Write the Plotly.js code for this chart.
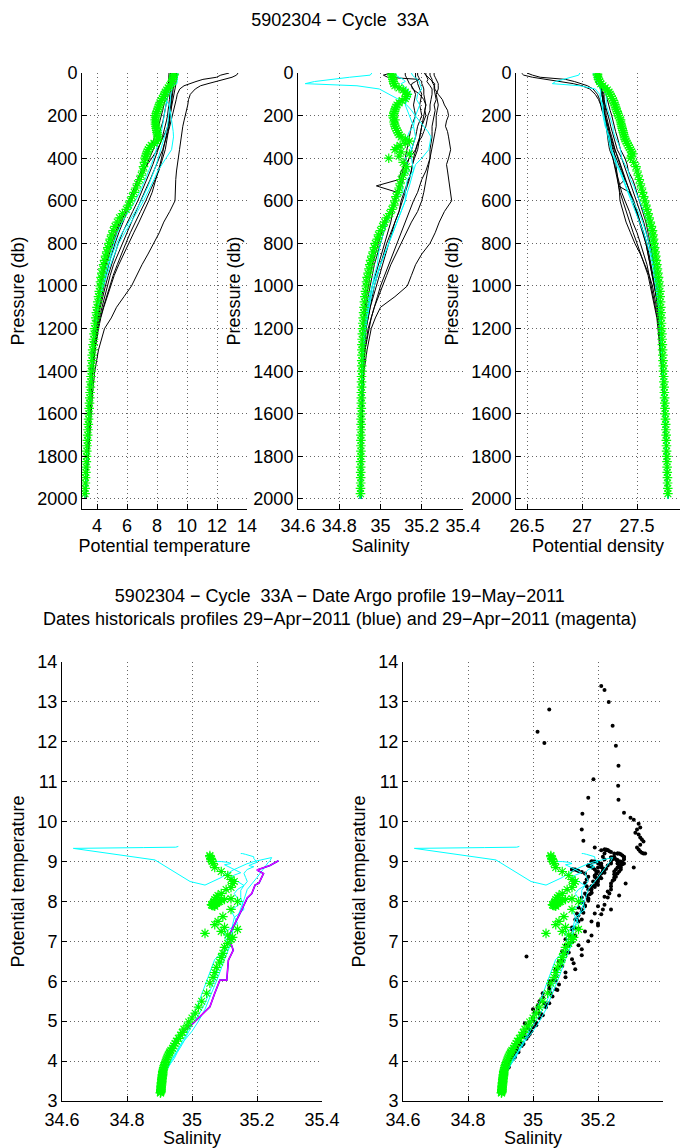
<!DOCTYPE html>
<html>
<head>
<meta charset="utf-8">
<script src="https://cdn.plot.ly/plotly-3.0.1.min.js"></script>
<style>body{margin:0;padding:0;background:#fff}#chart{width:680px;height:1148px}</style>
</head>
<body>
<div id="chart"></div>
<script>
// ---------- Argo profile (green stars) ----------
const argoP = [5,10,20,30,40,50,60,70,80,90,100,110,120,130,140,150,160,170,180,190,200,210,220,230,240,250,260,270,280,290,300,310,320,330,340,350,360,370,380,390,400,
  420,440,460,480,500,520,540,560,580,600,620,640,660,680,700,720,740,760,780,800,820,840,860,880,900,920,940,960,980,1000,
  1025,1050,1075,1100,1125,1150,1175,1200,1225,1250,1275,1300,1325,1350,1375,1400,1425,1450,1475,1500,1525,1550,1575,1600,1625,1650,1675,1700,1725,1750,1775,1800,1825,1850,1875,1900,1925,1950,1975,2000];
const argoT = [9.15,9.12,9.08,9.05,9.0,8.95,8.85,8.75,8.65,8.55,8.5,8.45,8.35,8.3,8.2,8.15,8.1,8.05,8.0,7.95,7.92,7.9,7.88,7.9,7.9,7.92,7.95,7.98,8.0,8.03,8.05,8.07,8.0,7.8,7.62,7.5,7.42,7.35,7.3,7.25,7.2,
  7.16,7.1,7.05,6.95,6.85,6.7,6.6,6.48,6.35,6.22,6.1,5.95,5.7,5.5,5.35,5.2,5.08,4.98,4.88,4.8,4.72,4.65,4.57,4.5,4.44,4.38,4.32,4.27,4.23,4.2,
  4.15,4.1,4.05,4.0,3.96,3.92,3.88,3.84,3.8,3.77,3.74,3.71,3.68,3.66,3.64,3.62,3.6,3.58,3.56,3.54,3.52,3.5,3.48,3.46,3.44,3.42,3.4,3.38,3.36,3.34,3.32,3.3,3.29,3.27,3.26,3.24,3.23,3.21,3.2];
const argoS = [35.055,35.055,35.058,35.06,35.062,35.065,35.07,35.09,35.11,35.12,35.13,35.125,35.12,35.105,35.09,35.08,35.075,35.07,35.068,35.065,35.06,35.062,35.07,35.065,35.068,35.07,35.075,35.08,35.085,35.09,35.1,35.12,35.14,35.12,35.095,35.08,35.07,35.1,35.14,35.09,35.04,
  35.11,35.125,35.12,35.11,35.1,35.095,35.09,35.085,35.075,35.07,35.065,35.055,35.045,35.03,35.02,35.01,35.0,34.99,34.985,34.975,34.97,34.965,34.958,34.952,34.948,34.944,34.94,34.935,34.932,34.93,
  34.927,34.924,34.922,34.92,34.918,34.916,34.914,34.913,34.912,34.911,34.91,34.91,34.91,34.909,34.909,34.909,34.908,34.908,34.908,34.907,34.907,34.907,34.907,34.906,34.906,34.906,34.906,34.905,34.905,34.905,34.905,34.905,34.904,34.904,34.904,34.904,34.904,34.903,34.903];
const argoD = [27.14,27.14,27.145,27.15,27.16,27.17,27.19,27.21,27.23,27.245,27.255,27.265,27.275,27.285,27.29,27.3,27.305,27.31,27.32,27.325,27.33,27.34,27.35,27.35,27.355,27.36,27.365,27.37,27.375,27.38,27.385,27.39,27.4,27.41,27.42,27.43,27.44,27.45,27.46,27.45,27.44,
  27.47,27.49,27.5,27.51,27.52,27.53,27.54,27.55,27.56,27.57,27.58,27.59,27.6,27.61,27.62,27.63,27.64,27.645,27.65,27.655,27.66,27.665,27.67,27.675,27.68,27.685,27.69,27.695,27.7,27.705,
  27.708,27.71,27.713,27.716,27.718,27.72,27.722,27.724,27.726,27.728,27.73,27.732,27.734,27.736,27.738,27.74,27.742,27.744,27.746,27.748,27.75,27.752,27.754,27.756,27.758,27.76,27.762,27.764,27.766,27.767,27.768,27.77,27.772,27.773,27.774,27.776,27.777,27.779,27.78];

// ---------- Historical profiles: common pressure levels ----------
const histP = [0,10,20,30,40,50,60,75,100,125,150,175,200,225,250,275,300,330,360,400,430,460,500,530,560,600,650,700,750,800,850,900,950,1000,1050,1100,1150,1200,1300,1400,1500,1600,1700,1800,1900,2000];

// black historical profiles (T = potential temperature, S = salinity, D = potential density)
const blkA_T = [13.4,13.3,13.0,12.4,11.9,11.4,10.9,10.55,10.22,10.1,10.05,9.95,9.85,9.8,9.72,9.68,9.6,9.55,9.5,9.42,9.35,9.3,9.25,9.22,9.2,9.2,8.85,8.45,8.15,7.8,7.4,7.0,6.65,6.3,5.8,5.3,4.95,4.5,4.1,3.85,3.7,3.6,3.5,3.4,3.32,3.25];
const blkA_S = [35.21,35.22,35.233,35.245,35.255,35.263,35.262,35.263,35.28,35.3,35.31,35.325,35.33,35.32,35.315,35.325,35.33,35.335,35.34,35.33,35.32,35.325,35.33,35.335,35.34,35.345,35.31,35.285,35.265,35.24,35.2,35.17,35.15,35.13,35.07,35.0,34.975,34.955,34.935,34.92,34.915,34.912,34.91,34.91,34.908,34.907];
const blkA_D = [26.45,26.47,26.55,26.68,26.8,26.92,27.0,27.07,27.12,27.15,27.17,27.19,27.21,27.22,27.24,27.25,27.26,27.27,27.29,27.3,27.31,27.32,27.33,27.335,27.34,27.345,27.37,27.4,27.44,27.48,27.53,27.57,27.61,27.64,27.66,27.68,27.695,27.71,27.725,27.735,27.745,27.752,27.76,27.768,27.775,27.78];

const blkB_T = [12.81,12.25,11.97,11.06,10.6,10.2,9.8,9.52,9.35,9.28,9.2,9.12,9.05,8.95,8.85,8.75,8.62,8.5,8.38,8.15,7.98,7.8,7.55,7.35,7.15,6.9,6.6,6.3,6.0,5.7,5.4,5.1,4.88,4.7,4.5,4.3,4.15,4.02,3.86,3.72,3.6,3.5,3.42,3.35,3.28,3.22];
const blkB_S = [35.05,35.014,35.035,35.186,35.17,35.152,35.15,35.155,35.19,35.21,35.22,35.215,35.22,35.21,35.2,35.195,35.19,35.185,35.18,35.165,35.155,35.15,35.135,35.125,35.115,35.1,35.09,35.07,35.05,35.03,35.015,35.0,34.985,34.97,34.96,34.95,34.94,34.93,34.92,34.915,34.912,34.91,34.908,34.907,34.906,34.905];
const blkB_D = [26.5,26.55,26.62,26.85,26.93,27.0,27.05,27.1,27.14,27.16,27.17,27.18,27.2,27.21,27.22,27.235,27.25,27.265,27.28,27.31,27.33,27.355,27.39,27.415,27.44,27.47,27.5,27.53,27.555,27.58,27.6,27.62,27.64,27.66,27.675,27.69,27.7,27.71,27.722,27.732,27.74,27.748,27.756,27.764,27.772,27.78];

const blkC_T = [9.3,9.3,9.3,9.29,9.28,9.26,9.24,9.2,9.12,9.06,9.0,8.95,8.9,8.82,8.72,8.58,8.42,8.22,8.02,7.65,7.35,7.05,6.75,6.62,6.5,6.3,6.02,5.72,5.45,5.2,4.98,4.78,4.6,4.45,4.3,4.16,4.02,3.92,3.78,3.66,3.57,3.49,3.42,3.35,3.29,3.23];
const blkC_S = [35.22,35.22,35.225,35.23,35.225,35.235,35.24,35.25,35.25,35.245,35.24,35.24,35.23,35.225,35.22,35.21,35.2,35.18,35.17,35.14,35.12,35.1,35.09,34.98,35.08,35.07,35.06,35.05,35.035,35.02,35.005,34.99,34.975,34.96,34.95,34.94,34.93,34.925,34.915,34.91,34.91,34.908,34.907,34.906,34.905,34.905];
const blkC_D = [27.12,27.12,27.125,27.13,27.13,27.14,27.15,27.17,27.18,27.19,27.2,27.205,27.21,27.22,27.23,27.245,27.26,27.28,27.3,27.33,27.35,27.37,27.39,27.33,27.43,27.46,27.49,27.52,27.55,27.58,27.6,27.62,27.64,27.66,27.675,27.69,27.7,27.71,27.72,27.73,27.74,27.748,27.756,27.764,27.772,27.78];

const blkD_T = [9.0,9.0,9.0,9.0,8.98,8.96,8.94,8.9,8.86,8.83,8.8,8.76,8.7,8.63,8.55,8.46,8.36,8.22,8.08,7.88,7.72,7.55,7.32,7.15,6.98,6.72,6.38,6.02,5.7,5.42,5.18,4.96,4.75,4.56,4.38,4.22,4.08,3.97,3.8,3.67,3.58,3.5,3.43,3.36,3.3,3.24];
const blkD_S = [35.18,35.18,35.185,35.19,35.2,35.2,35.205,35.21,35.21,35.215,35.22,35.215,35.21,35.205,35.2,35.195,35.19,35.18,35.17,35.16,35.155,35.15,35.14,35.13,35.12,35.11,35.09,35.07,35.055,35.04,35.025,35.01,34.995,34.98,34.965,34.95,34.94,34.93,34.92,34.912,34.91,34.908,34.907,34.906,34.905,34.905];
const blkD_D = [27.14,27.14,27.145,27.15,27.16,27.165,27.17,27.18,27.19,27.2,27.21,27.215,27.22,27.23,27.24,27.255,27.27,27.285,27.3,27.33,27.35,27.37,27.4,27.42,27.44,27.46,27.5,27.53,27.56,27.59,27.61,27.63,27.645,27.66,27.675,27.69,27.7,27.71,27.72,27.735,27.742,27.75,27.758,27.765,27.772,27.78];

const blkE_T = [9.2,9.2,9.2,9.18,9.15,9.12,9.1,9.06,9.0,8.98,8.95,8.93,8.9,8.85,8.8,8.75,8.7,8.62,8.55,8.38,8.25,8.12,7.88,7.7,7.5,7.25,6.9,6.55,6.22,5.92,5.62,5.35,5.08,4.85,4.62,4.42,4.22,4.06,3.84,3.69,3.59,3.5,3.43,3.36,3.3,3.24];
const blkE_S = [35.26,35.26,35.265,35.27,35.275,35.28,35.28,35.28,35.27,35.275,35.28,35.275,35.27,35.27,35.27,35.265,35.26,35.255,35.25,35.24,35.23,35.22,35.2,35.19,35.18,35.16,35.14,35.12,35.1,35.08,35.06,35.04,35.02,35.0,34.985,34.97,34.955,34.94,34.925,34.915,34.91,34.908,34.907,34.906,34.905,34.905];
const blkE_D = [27.14,27.14,27.145,27.15,27.16,27.17,27.175,27.18,27.18,27.19,27.2,27.2,27.21,27.215,27.22,27.225,27.23,27.24,27.25,27.28,27.295,27.31,27.33,27.345,27.36,27.39,27.43,27.46,27.5,27.53,27.56,27.59,27.61,27.63,27.65,27.67,27.685,27.7,27.715,27.73,27.74,27.75,27.758,27.765,27.772,27.78];

const blkF_T = [8.9,8.9,8.9,8.89,8.88,8.86,8.84,8.8,8.75,8.7,8.65,8.58,8.5,8.4,8.3,8.18,8.05,7.9,7.75,7.5,7.32,7.15,6.9,6.72,6.55,6.25,5.9,5.6,5.32,5.05,4.82,4.6,4.42,4.25,4.12,4.0,3.9,3.82,3.7,3.6,3.52,3.46,3.4,3.34,3.28,3.22];
const blkF_S = [35.17,35.17,35.17,35.175,35.18,35.18,35.185,35.19,35.2,35.195,35.19,35.195,35.2,35.19,35.18,35.175,35.17,35.16,35.15,35.14,35.13,35.12,35.11,35.1,35.09,35.07,35.05,35.03,35.015,35.0,34.985,34.97,34.96,34.95,34.94,34.93,34.925,34.92,34.912,34.91,34.908,34.906,34.905,34.905,34.904,34.903];
const blkF_D = [27.15,27.15,27.15,27.155,27.16,27.165,27.17,27.18,27.2,27.2,27.21,27.225,27.24,27.25,27.26,27.275,27.29,27.305,27.32,27.36,27.38,27.4,27.43,27.45,27.47,27.5,27.53,27.56,27.585,27.61,27.63,27.65,27.665,27.68,27.69,27.7,27.707,27.715,27.725,27.735,27.742,27.75,27.758,27.765,27.772,27.78];

const blkG_T = [9.1,9.1,9.1,9.1,9.08,9.06,9.04,9.02,9.0,8.98,8.95,8.9,8.85,8.8,8.75,8.68,8.6,8.52,8.45,8.3,8.2,8.1,7.92,7.8,7.68,7.45,7.15,6.8,6.45,6.1,5.78,5.45,5.15,4.9,4.68,4.45,4.25,4.1,3.86,3.7,3.6,3.52,3.44,3.37,3.3,3.24];
const blkG_S = [35.24,35.24,35.245,35.25,35.25,35.255,35.26,35.26,35.265,35.27,35.26,35.265,35.26,35.255,35.25,35.25,35.25,35.245,35.24,35.24,35.235,35.23,35.22,35.215,35.21,35.2,35.18,35.15,35.125,35.1,35.075,35.05,35.03,35.01,34.99,34.97,34.955,34.945,34.925,34.915,34.91,34.908,34.907,34.906,34.905,34.905];
const blkG_D = [27.14,27.14,27.145,27.15,27.155,27.16,27.17,27.175,27.18,27.19,27.19,27.2,27.21,27.215,27.22,27.23,27.24,27.25,27.26,27.28,27.29,27.3,27.32,27.33,27.345,27.37,27.4,27.43,27.465,27.5,27.535,27.57,27.6,27.62,27.64,27.66,27.68,27.69,27.71,27.725,27.74,27.748,27.756,27.764,27.772,27.78];

const blkH_T = [8.8,8.8,8.8,8.8,8.78,8.76,8.74,8.7,8.62,8.55,8.46,8.38,8.3,8.2,8.1,7.98,7.85,7.7,7.55,7.3,7.12,6.95,6.7,6.52,6.35,6.12,5.82,5.5,5.22,4.96,4.72,4.52,4.35,4.2,4.06,3.96,3.88,3.8,3.68,3.58,3.5,3.44,3.38,3.33,3.27,3.21];
const blkH_S = [35.12,35.12,35.125,35.13,35.135,35.14,35.15,35.16,35.17,35.165,35.16,35.165,35.17,35.16,35.15,35.145,35.14,35.135,35.13,35.12,35.115,35.11,35.1,35.09,35.08,35.07,35.05,35.02,35.005,34.99,34.975,34.96,34.95,34.94,34.932,34.925,34.92,34.915,34.91,34.91,34.908,34.906,34.905,34.905,34.903,34.9];
const blkH_D = [27.16,27.16,27.165,27.17,27.175,27.18,27.19,27.2,27.22,27.23,27.24,27.255,27.27,27.28,27.29,27.305,27.32,27.335,27.35,27.39,27.41,27.42,27.46,27.48,27.5,27.52,27.55,27.58,27.6,27.62,27.64,27.66,27.675,27.69,27.695,27.7,27.708,27.715,27.725,27.735,27.742,27.75,27.758,27.765,27.772,27.78];

// cyan historical profiles
const cyI_T = [9.38,9.36,9.35,9.34,9.335,9.33,9.04,8.5,8.41,8.6,8.79,8.88,8.94,9.0,9.04,9.08,9.1,9.02,8.97,8.6,8.3,8.05,7.8,7.6,7.4,7.1,6.7,6.25,5.85,5.45,5.15,4.9,4.65,4.42,4.22,4.06,3.95,3.86,3.72,3.62,3.54,3.47,3.4,3.34,3.28,3.22];
const cyI_S = [34.958,34.95,34.85,34.75,34.68,34.635,34.886,34.994,35.04,35.09,35.127,35.15,35.168,35.19,35.21,35.23,35.245,35.24,35.234,35.2,35.17,35.16,35.15,35.14,35.13,35.12,35.1,35.08,35.06,35.04,35.02,35.0,34.985,34.97,34.955,34.945,34.935,34.928,34.918,34.912,34.91,34.908,34.907,34.906,34.905,34.905];
const cyI_D = [26.98,26.97,26.9,26.82,26.76,26.73,26.98,27.12,27.16,27.17,27.18,27.19,27.2,27.21,27.22,27.23,27.24,27.25,27.26,27.29,27.31,27.34,27.37,27.39,27.41,27.44,27.48,27.52,27.56,27.59,27.62,27.64,27.655,27.67,27.685,27.695,27.703,27.71,27.722,27.732,27.74,27.748,27.756,27.764,27.772,27.78];

const cyJ_T = [9.2,9.2,9.18,9.15,9.12,9.08,9.04,8.98,8.92,8.9,8.87,8.84,8.8,8.76,8.7,8.6,8.5,8.4,8.28,8.1,7.95,7.8,7.6,7.42,7.22,6.95,6.55,6.1,5.68,5.3,5.0,4.75,4.55,4.35,4.18,4.05,3.94,3.85,3.72,3.62,3.54,3.47,3.4,3.34,3.28,3.22];
const cyJ_S = [35.15,35.155,35.165,35.18,35.19,35.19,35.195,35.2,35.18,35.175,35.19,35.18,35.17,35.165,35.16,35.165,35.17,35.16,35.15,35.15,35.155,35.16,35.13,35.125,35.12,35.12,35.1,35.08,35.06,35.04,35.02,35.0,34.98,34.96,34.95,34.94,34.932,34.925,34.915,34.91,34.91,34.908,34.907,34.906,34.905,34.905];
const cyJ_D = [27.1,27.105,27.115,27.13,27.14,27.15,27.16,27.17,27.17,27.17,27.19,27.19,27.19,27.2,27.21,27.23,27.25,27.26,27.27,27.3,27.32,27.35,27.38,27.4,27.42,27.46,27.51,27.55,27.58,27.61,27.63,27.65,27.665,27.68,27.69,27.7,27.707,27.715,27.725,27.735,27.742,27.75,27.758,27.765,27.772,27.78];

const cyK_T = [9.0,9.0,9.0,8.98,8.95,8.92,8.88,8.82,8.72,8.66,8.6,8.55,8.5,8.45,8.4,8.3,8.2,8.08,7.95,7.78,7.62,7.45,7.22,7.02,6.85,6.55,6.12,5.68,5.35,5.1,4.9,4.7,4.5,4.32,4.15,4.02,3.9,3.82,3.7,3.6,3.52,3.45,3.39,3.33,3.27,3.21];
const cyK_S = [35.07,35.075,35.09,35.11,35.12,35.1,35.11,35.13,35.15,35.13,35.12,35.13,35.14,35.15,35.16,35.14,35.13,35.14,35.15,35.12,35.13,35.14,35.1,35.105,35.11,35.07,35.05,35.03,35.015,35.0,34.99,34.985,34.97,34.96,34.945,34.935,34.928,34.92,34.913,34.91,34.908,34.906,34.905,34.905,34.903,34.9];
const cyK_D = [27.12,27.125,27.14,27.155,27.165,27.16,27.175,27.2,27.22,27.22,27.22,27.235,27.25,27.265,27.28,27.285,27.3,27.33,27.35,27.36,27.39,27.42,27.44,27.47,27.49,27.52,27.56,27.6,27.62,27.635,27.65,27.665,27.675,27.69,27.7,27.705,27.712,27.72,27.73,27.74,27.746,27.752,27.758,27.765,27.772,27.78];

// blue / magenta historical theta-S profile (29-Apr-2011)
const magS = [35.266,35.24,35.2,35.22,35.206,35.194,35.184,35.17,35.153,35.132,35.112,35.127,35.112,35.107,35.086,35.07,35.055,35.035,35.004,34.968,34.943,34.917,34.907,34.907];
const magT = [9.02,8.9,8.79,8.7,8.46,8.41,8.2,8.09,7.79,7.45,7.12,6.78,6.53,6.03,6.03,5.7,5.36,5.2,4.95,4.7,4.45,4.03,3.69,3.36];

// ---------- tick labels ----------
const presTicks = [0,200,400,600,800,1000,1200,1400,1600,1800,2000];
const tempTicks = [4,6,8,10,12,14];
const salTicks = [34.6,34.8,35,35.2,35.4];
const densTicks = [26.5,27,27.5];
const thetaTicks = [3,4,5,6,7,8,9,10,11,12,13,14];

// ---------- build traces ----------
const blacks = [
  [blkA_T,blkA_S,blkA_D],[blkB_T,blkB_S,blkB_D],[blkC_T,blkC_S,blkC_D],[blkD_T,blkD_S,blkD_D],
  [blkE_T,blkE_S,blkE_D],[blkF_T,blkF_S,blkF_D],[blkG_T,blkG_S,blkG_D],[blkH_T,blkH_S,blkH_D]
];
const cyans = [[cyI_T,cyI_S,cyI_D],[cyJ_T,cyJ_S,cyJ_D],[cyK_T,cyK_S,cyK_D]];
const GREEN = '#00ff00', CYAN = '#00ffff';
const star = {symbol:'asterisk-open', size:8, color:GREEN, line:{color:GREEN, width:1.2}};
const traces = [];
const axPairs = [['x','y'],['x2','y2'],['x3','y3']];
for (let k = 0; k < 3; k++) {
  blacks.forEach(p => traces.push({x:p[k], y:histP, xaxis:axPairs[k][0], yaxis:axPairs[k][1], mode:'lines', line:{color:'#000', width:1}}));
  cyans.forEach(p => traces.push({x:p[k], y:histP, xaxis:axPairs[k][0], yaxis:axPairs[k][1], mode:'lines', line:{color:CYAN, width:1}}));
  const argoVals = [argoT, argoS, argoD][k];
  traces.push({x:argoVals, y:argoP, xaxis:axPairs[k][0], yaxis:axPairs[k][1], mode:'markers', marker:star});
}
// bottom left: theta-S
cyans.forEach(p => traces.push({x:p[1], y:p[0], xaxis:'x4', yaxis:'y4', mode:'lines', line:{color:CYAN, width:1}}));
traces.push({x:magS, y:magT, xaxis:'x4', yaxis:'y4', mode:'lines', line:{color:'#0000ff', width:1.6}});
traces.push({x:magS, y:magT, xaxis:'x4', yaxis:'y4', mode:'lines', line:{color:'#ff00ff', width:1.2}});
traces.push({x:argoS, y:argoT, xaxis:'x4', yaxis:'y4', mode:'markers', marker:star});
// bottom right: theta-S with historical points
const dotS = [], dotT = [];
blacks.forEach(p => { p[1].forEach(v => dotS.push(v)); p[0].forEach(v => dotT.push(v)); });
traces.push({x:dotS, y:dotT, xaxis:'x5', yaxis:'y5', mode:'markers', marker:{symbol:'circle', size:4, color:'#000'}});
cyans.forEach(p => traces.push({x:p[1], y:p[0], xaxis:'x5', yaxis:'y5', mode:'lines', line:{color:CYAN, width:1}}));
traces.push({x:argoS, y:argoT, xaxis:'x5', yaxis:'y5', mode:'markers', marker:star});

// ---------- layout ----------
const W = 680, H = 1148;
const FONT = 'Liberation Sans, Arial, Helvetica, sans-serif';
const fx = px => px / W, fy = px => 1 - px / H;
function ax(extra) {
  return Object.assign({
    showline:true, linecolor:'#000', linewidth:1, mirror:false,
    ticks:'inside', ticklen:5, tickcolor:'#000', tickwidth:1,
    showgrid:true, gridcolor:'#666', griddash:'1px,3px', gridwidth:1, zeroline:false,
    tickfont:{family:FONT, size:18, color:'#000'}, tickmode:'array', automargin:false
  }, extra);
}
const titleFont = {family:FONT, size:18, color:'#000'};
const topY = [fy(509), fy(73)];
const botY = [fy(1101), fy(662)];
const layout = {
  width:W, height:H, margin:{l:0,r:0,t:0,b:0},
  paper_bgcolor:'#fff', plot_bgcolor:'#fff', showlegend:false,
  font:{family:FONT, size:18, color:'#000'},
  title:{text:'5902304 \u2212 Cycle \u00a033A', x:0.5, xanchor:'center', y:fy(20), yanchor:'middle', font:{family:FONT, size:18, color:'#000'}},
  xaxis: ax({domain:[fx(82), fx(247)], range:[3,14], tickvals:tempTicks, anchor:'y',
    title:{text:'Potential temperature', font:titleFont, standoff:3}}),
  yaxis: ax({domain:topY, range:[2047,0], tickvals:presTicks, anchor:'x',
    title:{text:'Pressure (db)', font:titleFont, standoff:8}}),
  xaxis2: ax({domain:[fx(298), fx(463)], range:[34.6,35.4], tickvals:salTicks, anchor:'y2',
    title:{text:'Salinity', font:titleFont, standoff:3}}),
  yaxis2: ax({domain:topY, range:[2047,0], tickvals:presTicks, anchor:'x2',
    title:{text:'Pressure (db)', font:titleFont, standoff:8}}),
  xaxis3: ax({domain:[fx(516), 1], range:[26.4,27.89], tickvals:densTicks, anchor:'y3',
    title:{text:'Potential density', font:titleFont, standoff:3}}),
  yaxis3: ax({domain:topY, range:[2047,0], tickvals:presTicks, anchor:'x3',
    title:{text:'Pressure (db)', font:titleFont, standoff:8}}),
  xaxis4: ax({domain:[fx(62), fx(322)], range:[34.6,35.4], tickvals:salTicks, anchor:'y4', ticklabelstandoff:2,
    title:{text:'Salinity', font:titleFont, standoff:0}}),
  yaxis4: ax({domain:botY, range:[3,14], tickvals:thetaTicks, anchor:'x4',
    title:{text:'Potential temperature', font:titleFont, standoff:8}}),
  xaxis5: ax({domain:[fx(403), fx(663)], range:[34.6,35.4], tickvals:salTicks, anchor:'y5', ticklabelstandoff:2,
    title:{text:'Salinity', font:titleFont, standoff:0}}),
  yaxis5: ax({domain:botY, range:[3,14], tickvals:thetaTicks, anchor:'x5',
    title:{text:'Potential temperature', font:titleFont, standoff:8}}),
  annotations:[{
    text:'5902304 \u2212 Cycle \u00a033A \u2212 Date Argo profile 19\u2212May\u22122011<br>Dates historicals profiles 29\u2212Apr\u22122011 (blue) and 29\u2212Apr\u22122011 (magenta)',
    xref:'paper', yref:'paper', x:0.5, y:fy(607), xanchor:'center', yanchor:'middle', showarrow:false,
    font:{family:FONT, size:18, color:'#000'}
  }]
};
Plotly.newPlot('chart', traces, layout, {staticPlot:true, displayModeBar:false});
</script>
</body>
</html>
